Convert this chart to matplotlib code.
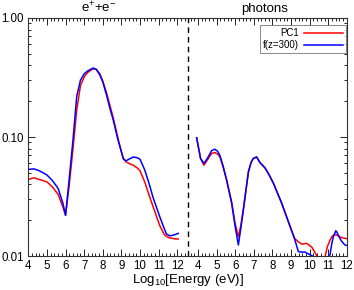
import numpy as np
import matplotlib
matplotlib.use("Agg")
import matplotlib.pyplot as plt
from matplotlib.ticker import FixedLocator, LogLocator, NullFormatter, FixedFormatter

plt.rcParams["font.family"] = ["Liberation Sans", "DejaVu Sans"]
plt.rcParams["mathtext.fontset"] = "custom"
plt.rcParams["mathtext.rm"] = "Liberation Sans"
plt.rcParams["mathtext.it"] = "Liberation Sans"

# e+e- panel
e_lep = [4.0, 4.3, 4.6, 5.0, 5.3, 5.6, 5.85, 6.0, 6.2, 6.4, 6.6, 6.8, 7.0, 7.2,
         7.48, 7.65, 7.84, 8.0, 8.2, 8.4, 8.56, 8.82, 9.0, 9.1, 9.24, 9.4, 9.63,
         9.85, 10.0, 10.25, 10.5, 10.7, 11.06, 11.3, 11.42, 11.6, 11.8, 12.05]
pc1_lep = [0.044, 0.0455, 0.044, 0.042, 0.038, 0.033, 0.026, 0.022, 0.040, 0.080,
           0.17, 0.27, 0.32, 0.35, 0.375, 0.37, 0.34, 0.295, 0.235, 0.18, 0.145,
           0.097, 0.075, 0.066, 0.062, 0.060, 0.058, 0.055, 0.052, 0.042, 0.032,
           0.026, 0.018, 0.0152, 0.0146, 0.0142, 0.014, 0.0139]
fz_lep = [0.0535, 0.054, 0.052, 0.048, 0.043, 0.037, 0.028, 0.022, 0.045, 0.095,
          0.22, 0.30, 0.34, 0.36, 0.38, 0.37, 0.332, 0.29, 0.225, 0.17, 0.139,
          0.094, 0.075, 0.066, 0.063, 0.065, 0.068, 0.067, 0.065, 0.053, 0.04,
          0.031, 0.0214, 0.017, 0.0153, 0.0148, 0.015, 0.0155]

# photon panel
e_pho = [3.93, 4.14, 4.32, 4.5, 4.74, 4.91, 5.05, 5.18, 5.35, 5.54, 5.81, 5.99,
         6.17, 6.3, 6.44, 6.6, 6.71, 6.85, 6.97, 7.15, 7.33, 7.6, 7.78, 8.05,
         8.5, 8.95, 9.18, 9.39, 9.57, 9.75, 9.84, 10.11, 10.3, 10.38, 10.6, 10.8,
         10.95, 11.1, 11.19, 11.27, 11.4, 11.45, 11.62, 11.72, 11.89, 12.0]
pc1_pho = [0.0986, 0.066, 0.058, 0.064, 0.073, 0.074, 0.072, 0.068, 0.056, 0.0435,
           0.0285, 0.019, 0.0145, 0.018, 0.025, 0.038, 0.051, 0.061, 0.066, 0.068,
           0.061, 0.055, 0.0495, 0.041, 0.0277, 0.0177, 0.0141, 0.0132, 0.0126,
           0.0127, 0.0128, 0.0119, 0.0106, 0.0101, 0.0085, 0.0095, 0.012, 0.0137,
           0.0145, 0.015, 0.0151, 0.015, 0.0145, 0.0143, 0.0141, 0.014]
fz_pho = [0.0986, 0.066, 0.060, 0.066, 0.077, 0.079, 0.076, 0.070, 0.057, 0.0435,
          0.0277, 0.018, 0.0124, 0.017, 0.0244, 0.038, 0.051, 0.061, 0.066, 0.068,
          0.061, 0.055, 0.0495, 0.041, 0.0277, 0.0177, 0.0141, 0.0109, 0.0108,
          0.0108, 0.0106, 0.0101, 0.0097, 0.0092, 0.008, 0.0078, 0.008, 0.0105,
          0.0128, 0.0145, 0.0163, 0.016, 0.0141, 0.0133, 0.0124, 0.0123]

xticks = [4, 5, 6, 7, 8, 9, 10, 11, 12]
yticks = [0.01, 0.1, 1.0]
ytick_labels = ["0.01", "0.10", "1.00"]

shift = 9.11  # horizontal offset of the photon panel (in energy units)

fig = plt.figure(figsize=(3.54, 2.90), dpi=100)
ax = fig.add_axes([0.080, 0.117, 0.900, 0.821])

ul = np.array(e_lep) - 4
ur = np.array(e_pho) - 4 + shift
ax.plot(ul, pc1_lep, color="#ff0000", lw=1.1, label="PC1")
ax.plot(ul, fz_lep, color="#0000ff", lw=1.1, label="f(z=300)")
ax.plot(ur, pc1_pho, color="#ff0000", lw=1.1)
ax.plot(ur, fz_pho, color="#0000ff", lw=1.1)

ax.axvline(8.55, color="black", lw=1.0, ls=(0, (4, 3)))

ax.set_yscale("log")
ax.set_ylim(0.01, 1.0)
ax.set_xlim(0, 8 + shift)

major = [t - 4 for t in xticks] + [t - 4 + shift for t in xticks]
ax.xaxis.set_major_locator(FixedLocator(major))
ax.xaxis.set_major_formatter(FixedFormatter([str(t) for t in xticks] * 2))
minor = list(np.arange(0, 8.45, 0.2)) + list(np.arange(shift - 0.4, 8 + shift + 0.01, 0.2))
ax.xaxis.set_minor_locator(FixedLocator(minor))

ax.yaxis.set_major_locator(FixedLocator(yticks))
ax.yaxis.set_major_formatter(FixedFormatter(ytick_labels))
ax.yaxis.set_minor_locator(LogLocator(base=10, subs=np.arange(2, 10)))
ax.yaxis.set_minor_formatter(NullFormatter())

ax.tick_params(which="both", direction="in", top=True, right=True, labelsize=8.3,
               width=0.6, pad=3)
ax.tick_params(which="major", length=5)
ax.tick_params(which="minor", length=2.5)
for s in ax.spines.values():
    s.set_linewidth(0.8)
    s.set_color("#333333")

ax.set_xlabel(r"Log$_{10}$[Energy (eV)]", fontsize=9.5, labelpad=0)
ax.text(3.8, 1.025, r"e$^{+}$+e$^{-}$", fontsize=9.5, ha="center", va="baseline",
        transform=ax.get_xaxis_transform())
ax.text(12.7, 1.025, "photons", fontsize=9.5, ha="center", va="baseline",
        transform=ax.get_xaxis_transform())

leg = ax.legend(loc="upper right", bbox_to_anchor=(0.997, 0.97), fontsize=7,
                markerfirst=False, fancybox=False, frameon=True, handlelength=4.0,
                borderpad=0.3, labelspacing=0.25, handletextpad=0.5, borderaxespad=0)
leg.get_frame().set_edgecolor("#555555")
leg.get_frame().set_linewidth(0.6)
for t in leg.get_texts():
    t.set_ha("right")

fig.savefig("out.png", dpi=100)
